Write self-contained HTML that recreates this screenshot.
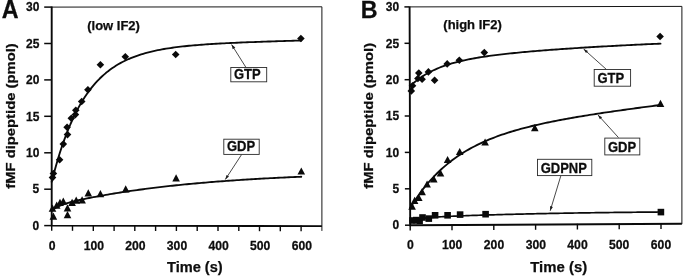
<!DOCTYPE html>
<html><head><meta charset="utf-8"><title>fMF dipeptide formation</title>
<style>
html,body{margin:0;padding:0;background:#fff;}
svg{display:block;will-change:transform;transform:translateZ(0)}
text{stroke:#0d0d0d;stroke-width:0.25px;font-family:"Liberation Sans",Arial,Helvetica,sans-serif;font-weight:bold;fill:#0d0d0d}
.tk{font-size:12px}
.tx{font-size:12.2px}
.ax{font-size:14.6px}
.ay{font-size:13.5px}
.in{font-size:13px}
.lb{font-size:13px}
.pl{font-size:23.3px}
</style></head>
<body>
<svg width="685" height="278" viewBox="0 0 685 278">
<rect width="685" height="278" fill="#ffffff"/>
<path d="M51.7,7.1 L321.9,6.8 L321.9,230.9" fill="none" stroke="#151515" stroke-width="1"/><path d="M51.7,6.6 L51.7,225.6 L321.9,226.1" fill="none" stroke="#0a0a0a" stroke-width="1.9" stroke-linejoin="miter"/><path d="M44.2,225.6 H51.7" stroke="#0a0a0a" stroke-width="1.5"/><text class="tk" text-anchor="end" transform="translate(39.3 229.8) scale(1 1.04)">0</text><path d="M44.2,189.2 H51.7" stroke="#0a0a0a" stroke-width="1.5"/><text class="tk" text-anchor="end" transform="translate(39.3 193.4) scale(1 1.04)">5</text><path d="M44.2,152.8 H51.7" stroke="#0a0a0a" stroke-width="1.5"/><text class="tk" text-anchor="end" transform="translate(39.3 157.0) scale(1 1.04)">10</text><path d="M44.2,116.3 H51.7" stroke="#0a0a0a" stroke-width="1.5"/><text class="tk" text-anchor="end" transform="translate(39.3 120.5) scale(1 1.04)">15</text><path d="M44.2,79.9 H51.7" stroke="#0a0a0a" stroke-width="1.5"/><text class="tk" text-anchor="end" transform="translate(39.3 84.1) scale(1 1.04)">20</text><path d="M44.2,43.5 H51.7" stroke="#0a0a0a" stroke-width="1.5"/><text class="tk" text-anchor="end" transform="translate(39.3 47.7) scale(1 1.04)">25</text><path d="M44.2,7.1 H51.7" stroke="#0a0a0a" stroke-width="1.5"/><text class="tk" text-anchor="end" transform="translate(39.3 11.3) scale(1 1.04)">30</text><path d="M51.7,225.1 V230.8" stroke="#0a0a0a" stroke-width="1.4"/><path d="M72.5,225.1 V230.8" stroke="#0a0a0a" stroke-width="1.4"/><path d="M93.3,225.2 V230.9" stroke="#0a0a0a" stroke-width="1.4"/><path d="M114.1,225.2 V230.9" stroke="#0a0a0a" stroke-width="1.4"/><path d="M134.8,225.3 V231.0" stroke="#0a0a0a" stroke-width="1.4"/><path d="M155.6,225.3 V231.0" stroke="#0a0a0a" stroke-width="1.4"/><path d="M176.4,225.3 V231.0" stroke="#0a0a0a" stroke-width="1.4"/><path d="M197.2,225.4 V231.1" stroke="#0a0a0a" stroke-width="1.4"/><path d="M218.0,225.4 V231.1" stroke="#0a0a0a" stroke-width="1.4"/><path d="M238.8,225.4 V231.1" stroke="#0a0a0a" stroke-width="1.4"/><path d="M259.5,225.5 V231.2" stroke="#0a0a0a" stroke-width="1.4"/><path d="M280.3,225.5 V231.2" stroke="#0a0a0a" stroke-width="1.4"/><path d="M301.1,225.6 V231.3" stroke="#0a0a0a" stroke-width="1.4"/><text class="tx" text-anchor="middle" transform="translate(52.2 249.8) scale(1 1.05)">0</text><text class="tx" text-anchor="middle" transform="translate(93.8 249.8) scale(1 1.05)">100</text><text class="tx" text-anchor="middle" transform="translate(135.4 249.8) scale(1 1.05)">200</text><text class="tx" text-anchor="middle" transform="translate(177.0 249.8) scale(1 1.05)">300</text><text class="tx" text-anchor="middle" transform="translate(218.6 249.8) scale(1 1.05)">400</text><text class="tx" text-anchor="middle" transform="translate(260.2 249.8) scale(1 1.05)">500</text><text class="tx" text-anchor="middle" transform="translate(301.8 249.8) scale(1 1.05)">600</text><path d="M51.70,181.83 L53.78,173.77 L55.86,166.19 L57.94,159.05 L60.02,152.34 L62.10,146.02 L64.18,140.07 L66.26,134.48 L68.34,129.21 L70.42,124.25 L72.50,119.59 L74.58,115.19 L76.66,111.06 L78.74,107.16 L80.82,103.50 L82.90,100.05 L84.98,96.80 L87.06,93.74 L89.14,90.86 L91.22,88.15 L93.30,85.59 L95.38,83.18 L97.46,80.92 L99.54,78.78 L101.62,76.77 L103.70,74.87 L105.78,73.09 L107.86,71.40 L109.94,69.81 L112.02,68.32 L114.10,66.91 L116.18,65.58 L118.26,64.32 L120.34,63.14 L122.42,62.02 L124.50,60.97 L126.58,59.97 L128.66,59.03 L130.74,58.15 L132.82,57.31 L134.90,56.52 L136.98,55.77 L139.06,55.07 L141.14,54.40 L143.22,53.77 L145.30,53.17 L147.38,52.60 L149.46,52.07 L151.54,51.56 L153.62,51.08 L155.70,50.63 L157.78,50.20 L159.86,49.79 L161.94,49.40 L164.02,49.03 L166.10,48.69 L168.18,48.35 L170.26,48.04 L172.34,47.74 L174.42,47.45 L176.50,47.18 L178.58,46.92 L180.66,46.67 L182.74,46.44 L184.82,46.21 L186.90,46.00 L188.98,45.79 L191.06,45.59 L193.14,45.41 L195.22,45.23 L197.30,45.05 L199.38,44.89 L201.46,44.73 L203.54,44.57 L205.62,44.43 L207.70,44.28 L209.78,44.15 L211.86,44.01 L213.94,43.89 L216.02,43.76 L218.10,43.64 L220.18,43.53 L222.26,43.42 L224.34,43.31 L226.42,43.20 L228.50,43.10 L230.58,43.00 L232.66,42.90 L234.74,42.81 L236.82,42.72 L238.90,42.63 L240.98,42.54 L243.06,42.45 L245.14,42.37 L247.22,42.29 L249.30,42.20 L251.38,42.12 L253.46,42.05 L255.54,41.97 L257.62,41.89 L259.70,41.82 L261.78,41.75 L263.86,41.68 L265.94,41.61 L268.02,41.54 L270.10,41.47 L272.18,41.40 L274.26,41.33 L276.34,41.26 L278.42,41.20 L280.50,41.13 L282.58,41.07 L284.66,41.00 L286.74,40.94 L288.82,40.88 L290.90,40.81 L292.98,40.75 L295.06,40.69 L297.14,40.63 L299.22,40.57 L301.30,40.51" fill="none" stroke="#0a0a0a" stroke-width="1.85" stroke-linejoin="round" stroke-linecap="round"/><path d="M51.70,210.66 L53.78,209.07 L55.86,207.75 L57.94,206.64 L60.02,205.68 L62.10,204.85 L64.18,204.11 L66.26,203.44 L68.34,202.82 L70.42,202.24 L72.50,201.70 L74.58,201.18 L76.66,200.69 L78.74,200.21 L80.82,199.75 L82.90,199.30 L84.98,198.87 L87.06,198.44 L89.14,198.02 L91.22,197.61 L93.30,197.20 L95.38,196.81 L97.46,196.42 L99.54,196.04 L101.62,195.66 L103.70,195.29 L105.78,194.92 L107.86,194.56 L109.94,194.21 L112.02,193.86 L114.10,193.52 L116.18,193.18 L118.26,192.84 L120.34,192.52 L122.42,192.19 L124.50,191.87 L126.58,191.56 L128.66,191.25 L130.74,190.95 L132.82,190.65 L134.90,190.35 L136.98,190.06 L139.06,189.77 L141.14,189.49 L143.22,189.21 L145.30,188.94 L147.38,188.67 L149.46,188.40 L151.54,188.14 L153.62,187.88 L155.70,187.63 L157.78,187.38 L159.86,187.13 L161.94,186.89 L164.02,186.65 L166.10,186.41 L168.18,186.18 L170.26,185.95 L172.34,185.73 L174.42,185.51 L176.50,185.29 L178.58,185.07 L180.66,184.86 L182.74,184.65 L184.82,184.44 L186.90,184.24 L188.98,184.04 L191.06,183.84 L193.14,183.65 L195.22,183.46 L197.30,183.27 L199.38,183.09 L201.46,182.90 L203.54,182.72 L205.62,182.55 L207.70,182.37 L209.78,182.20 L211.86,182.03 L213.94,181.86 L216.02,181.70 L218.10,181.54 L220.18,181.38 L222.26,181.22 L224.34,181.07 L226.42,180.91 L228.50,180.76 L230.58,180.62 L232.66,180.47 L234.74,180.33 L236.82,180.19 L238.90,180.05 L240.98,179.91 L243.06,179.77 L245.14,179.64 L247.22,179.51 L249.30,179.38 L251.38,179.25 L253.46,179.13 L255.54,179.00 L257.62,178.88 L259.70,178.76 L261.78,178.64 L263.86,178.53 L265.94,178.41 L268.02,178.30 L270.10,178.19 L272.18,178.08 L274.26,177.97 L276.34,177.87 L278.42,177.76 L280.50,177.66 L282.58,177.56 L284.66,177.46 L286.74,177.36 L288.82,177.26 L290.90,177.17 L292.98,177.07 L295.06,176.98 L297.14,176.89 L299.22,176.80 L301.30,176.71" fill="none" stroke="#0a0a0a" stroke-width="1.85" stroke-linejoin="round" stroke-linecap="round"/><g fill="#0a0a0a"><path d="M52.5,173.8 L56.3,177.6 L52.5,181.4 L48.7,177.6Z"/><path d="M53.4,169.7 L57.2,173.5 L53.4,177.3 L49.6,173.5Z"/><path d="M59.6,155.9 L63.4,159.7 L59.6,163.5 L55.8,159.7Z"/><path d="M63.3,140.3 L67.1,144.1 L63.3,147.9 L59.5,144.1Z"/><path d="M67.5,130.8 L71.3,134.6 L67.5,138.4 L63.7,134.6Z"/><path d="M67.1,123.5 L70.9,127.3 L67.1,131.1 L63.3,127.3Z"/><path d="M71.3,114.4 L75.1,118.2 L71.3,122.0 L67.5,118.2Z"/><path d="M75.4,110.8 L79.2,114.6 L75.4,118.4 L71.6,114.6Z"/><path d="M75.8,106.4 L79.6,110.2 L75.8,114.0 L72.0,110.2Z"/><path d="M81.7,97.7 L85.5,101.5 L81.7,105.3 L77.9,101.5Z"/><path d="M87.9,86.0 L91.7,89.8 L87.9,93.6 L84.1,89.8Z"/><path d="M100.4,60.9 L104.2,64.7 L100.4,68.5 L96.6,64.7Z"/><path d="M125.3,52.9 L129.1,56.7 L125.3,60.5 L121.5,56.7Z"/><path d="M175.7,50.7 L179.5,54.5 L175.7,58.3 L171.9,54.5Z"/><path d="M300.9,34.7 L304.7,38.5 L300.9,42.3 L297.1,38.5Z"/></g><g fill="#0a0a0a"><path d="M53.4,212.5 L57.2,219.7 L49.6,219.7Z"/><path d="M52.5,204.5 L56.3,211.7 L48.7,211.7Z"/><path d="M56.7,201.6 L60.5,208.8 L52.9,208.8Z"/><path d="M60.0,198.7 L63.8,205.9 L56.2,205.9Z"/><path d="M63.3,197.6 L67.1,204.8 L59.5,204.8Z"/><path d="M67.5,204.2 L71.3,211.4 L63.7,211.4Z"/><path d="M67.5,211.1 L71.3,218.3 L63.7,218.3Z"/><path d="M72.1,198.7 L75.9,205.9 L68.3,205.9Z"/><path d="M76.2,196.5 L80.0,203.7 L72.4,203.7Z"/><path d="M82.1,196.2 L85.9,203.4 L78.3,203.4Z"/><path d="M88.3,189.2 L92.1,196.4 L84.5,196.4Z"/><path d="M100.4,190.0 L104.2,197.2 L96.6,197.2Z"/><path d="M125.7,185.2 L129.5,192.4 L121.9,192.4Z"/><path d="M176.1,174.3 L179.9,181.5 L172.3,181.5Z"/><path d="M301.3,167.4 L305.1,174.6 L297.5,174.6Z"/></g><path d="M246.0,67.5 L231.6,44.6" stroke="#1a1a1a" stroke-width="0.8"/><path d="M231.6,44.6 L235.3,47.6 L232.7,49.2Z" fill="#1a1a1a"/><rect x="230.8" y="67.5" width="35.9" height="14.3" fill="#fff" stroke="#2a2a2a" stroke-width="0.9"/><text class="lb" transform="translate(234.0 78.8) scale(1 1.13)">GTP</text><path d="M241.7,154.4 L225.3,179.5" stroke="#1a1a1a" stroke-width="0.8"/><path d="M225.3,179.5 L226.5,174.9 L229.0,176.6Z" fill="#1a1a1a"/><rect x="223.8" y="139.2" width="35.4" height="15.2" fill="#fff" stroke="#2a2a2a" stroke-width="0.9"/><text class="lb" transform="translate(227.0 151.4) scale(1 1.13)">GDP</text><path d="M409.6,6.9 L681.9,6.4 L681.9,224.1" fill="none" stroke="#151515" stroke-width="1"/><path d="M409.6,6.4 L410.2,225.2 L681.9,223.8" fill="none" stroke="#0a0a0a" stroke-width="1.9" stroke-linejoin="miter"/><path d="M405.0,225.2 H410.2" stroke="#0a0a0a" stroke-width="1.5"/><text class="tk" text-anchor="end" transform="translate(399.1 229.4) scale(1 1.04)">0</text><path d="M404.9,188.8 H410.1" stroke="#0a0a0a" stroke-width="1.5"/><text class="tk" text-anchor="end" transform="translate(399.1 193.0) scale(1 1.04)">5</text><path d="M404.8,152.4 H410.0" stroke="#0a0a0a" stroke-width="1.5"/><text class="tk" text-anchor="end" transform="translate(399.1 156.6) scale(1 1.04)">10</text><path d="M404.7,116.0 H409.9" stroke="#0a0a0a" stroke-width="1.5"/><text class="tk" text-anchor="end" transform="translate(399.1 120.2) scale(1 1.04)">15</text><path d="M404.6,79.7 H409.8" stroke="#0a0a0a" stroke-width="1.5"/><text class="tk" text-anchor="end" transform="translate(399.1 83.9) scale(1 1.04)">20</text><path d="M404.5,43.3 H409.7" stroke="#0a0a0a" stroke-width="1.5"/><text class="tk" text-anchor="end" transform="translate(399.1 47.5) scale(1 1.04)">25</text><path d="M404.4,6.9 H409.6" stroke="#0a0a0a" stroke-width="1.5"/><text class="tk" text-anchor="end" transform="translate(399.1 11.1) scale(1 1.04)">30</text><path d="M410.2,224.7 V230.4" stroke="#0a0a0a" stroke-width="1.4"/><path d="M452.0,224.5 V230.2" stroke="#0a0a0a" stroke-width="1.4"/><path d="M493.8,224.3 V230.0" stroke="#0a0a0a" stroke-width="1.4"/><path d="M535.6,224.1 V229.8" stroke="#0a0a0a" stroke-width="1.4"/><path d="M577.4,223.8 V229.5" stroke="#0a0a0a" stroke-width="1.4"/><path d="M619.2,223.6 V229.3" stroke="#0a0a0a" stroke-width="1.4"/><path d="M661.0,223.4 V229.1" stroke="#0a0a0a" stroke-width="1.4"/><text class="tx" text-anchor="middle" transform="translate(410.5 249.4) scale(1 1.05)">0</text><text class="tx" text-anchor="middle" transform="translate(452.2 249.4) scale(1 1.05)">100</text><text class="tx" text-anchor="middle" transform="translate(494.0 249.4) scale(1 1.05)">200</text><text class="tx" text-anchor="middle" transform="translate(535.8 249.4) scale(1 1.05)">300</text><text class="tx" text-anchor="middle" transform="translate(577.5 249.4) scale(1 1.05)">400</text><text class="tx" text-anchor="middle" transform="translate(619.2 249.4) scale(1 1.05)">500</text><text class="tx" text-anchor="middle" transform="translate(661.0 249.4) scale(1 1.05)">600</text><path d="M410.00,86.32 L412.09,84.38 L414.18,82.57 L416.26,80.86 L418.35,79.27 L420.44,77.77 L422.52,76.37 L424.61,75.05 L426.70,73.81 L428.79,72.65 L430.88,71.55 L432.96,70.52 L435.05,69.54 L437.14,68.63 L439.23,67.76 L441.31,66.94 L443.40,66.17 L445.49,65.43 L447.57,64.74 L449.66,64.08 L451.75,63.46 L453.84,62.86 L455.93,62.30 L458.01,61.76 L460.10,61.25 L462.19,60.76 L464.27,60.29 L466.36,59.84 L468.45,59.41 L470.54,59.00 L472.62,58.61 L474.71,58.23 L476.80,57.87 L478.89,57.52 L480.98,57.18 L483.06,56.86 L485.15,56.54 L487.24,56.24 L489.32,55.95 L491.41,55.66 L493.50,55.39 L495.59,55.12 L497.68,54.86 L499.76,54.60 L501.85,54.36 L503.94,54.12 L506.02,53.89 L508.11,53.66 L510.20,53.43 L512.29,53.22 L514.38,53.00 L516.46,52.80 L518.55,52.59 L520.64,52.39 L522.73,52.20 L524.81,52.00 L526.90,51.82 L528.99,51.63 L531.08,51.45 L533.16,51.27 L535.25,51.09 L537.34,50.92 L539.42,50.75 L541.51,50.58 L543.60,50.42 L545.69,50.26 L547.77,50.09 L549.86,49.94 L551.95,49.78 L554.04,49.63 L556.12,49.47 L558.21,49.32 L560.30,49.18 L562.39,49.03 L564.48,48.88 L566.56,48.74 L568.65,48.60 L570.74,48.46 L572.83,48.32 L574.91,48.19 L577.00,48.05 L579.09,47.92 L581.17,47.78 L583.26,47.65 L585.35,47.52 L587.44,47.40 L589.52,47.27 L591.61,47.14 L593.70,47.02 L595.79,46.90 L597.88,46.78 L599.96,46.66 L602.05,46.54 L604.14,46.42 L606.23,46.30 L608.31,46.19 L610.40,46.07 L612.49,45.96 L614.58,45.84 L616.66,45.73 L618.75,45.62 L620.84,45.51 L622.92,45.40 L625.01,45.30 L627.10,45.19 L629.19,45.09 L631.27,44.98 L633.36,44.88 L635.45,44.78 L637.54,44.67 L639.62,44.57 L641.71,44.47 L643.80,44.37 L645.89,44.28 L647.98,44.18 L650.06,44.08 L652.15,43.99 L654.24,43.89 L656.33,43.80 L658.41,43.71 L660.50,43.62" fill="none" stroke="#0a0a0a" stroke-width="1.85" stroke-linejoin="round" stroke-linecap="round"/><path d="M410.00,208.15 L412.09,204.77 L414.18,201.53 L416.26,198.42 L418.35,195.43 L420.44,192.55 L422.52,189.79 L424.61,187.14 L426.70,184.59 L428.79,182.14 L430.88,179.78 L432.96,177.52 L435.05,175.34 L437.14,173.24 L439.23,171.22 L441.31,169.28 L443.40,167.41 L445.49,165.61 L447.57,163.88 L449.66,162.20 L451.75,160.59 L453.84,159.04 L455.93,157.54 L458.01,156.10 L460.10,154.71 L462.19,153.36 L464.27,152.06 L466.36,150.81 L468.45,149.60 L470.54,148.43 L472.62,147.30 L474.71,146.21 L476.80,145.15 L478.89,144.12 L480.98,143.13 L483.06,142.17 L485.15,141.24 L487.24,140.34 L489.32,139.47 L491.41,138.62 L493.50,137.80 L495.59,137.00 L497.68,136.22 L499.76,135.47 L501.85,134.74 L503.94,134.03 L506.02,133.33 L508.11,132.66 L510.20,132.00 L512.29,131.36 L514.38,130.74 L516.46,130.13 L518.55,129.54 L520.64,128.96 L522.73,128.40 L524.81,127.85 L526.90,127.31 L528.99,126.78 L531.08,126.26 L533.16,125.76 L535.25,125.26 L537.34,124.78 L539.42,124.30 L541.51,123.84 L543.60,123.38 L545.69,122.93 L547.77,122.49 L549.86,122.06 L551.95,121.64 L554.04,121.22 L556.12,120.81 L558.21,120.40 L560.30,120.00 L562.39,119.61 L564.48,119.23 L566.56,118.84 L568.65,118.47 L570.74,118.10 L572.83,117.73 L574.91,117.37 L577.00,117.01 L579.09,116.66 L581.17,116.31 L583.26,115.97 L585.35,115.63 L587.44,115.29 L589.52,114.96 L591.61,114.63 L593.70,114.30 L595.79,113.98 L597.88,113.66 L599.96,113.34 L602.05,113.03 L604.14,112.71 L606.23,112.40 L608.31,112.10 L610.40,111.79 L612.49,111.49 L614.58,111.19 L616.66,110.89 L618.75,110.59 L620.84,110.30 L622.92,110.00 L625.01,109.71 L627.10,109.42 L629.19,109.14 L631.27,108.85 L633.36,108.56 L635.45,108.28 L637.54,108.00 L639.62,107.72 L641.71,107.44 L643.80,107.16 L645.89,106.89 L647.98,106.61 L650.06,106.34 L652.15,106.06 L654.24,105.79 L656.33,105.52 L658.41,105.25 L660.50,104.98" fill="none" stroke="#0a0a0a" stroke-width="1.85" stroke-linejoin="round" stroke-linecap="round"/><path d="M410.00,220.82 L412.09,220.22 L414.18,219.72 L416.26,219.28 L418.35,218.91 L420.44,218.58 L422.52,218.30 L424.61,218.05 L426.70,217.82 L428.79,217.63 L430.88,217.45 L432.96,217.29 L435.05,217.14 L437.14,217.00 L439.23,216.87 L441.31,216.75 L443.40,216.64 L445.49,216.53 L447.57,216.43 L449.66,216.34 L451.75,216.24 L453.84,216.15 L455.93,216.07 L458.01,215.98 L460.10,215.90 L462.19,215.82 L464.27,215.74 L466.36,215.66 L468.45,215.59 L470.54,215.52 L472.62,215.45 L474.71,215.38 L476.80,215.31 L478.89,215.24 L480.98,215.17 L483.06,215.11 L485.15,215.04 L487.24,214.98 L489.32,214.92 L491.41,214.85 L493.50,214.79 L495.59,214.73 L497.68,214.67 L499.76,214.62 L501.85,214.56 L503.94,214.50 L506.02,214.45 L508.11,214.39 L510.20,214.34 L512.29,214.29 L514.38,214.24 L516.46,214.19 L518.55,214.13 L520.64,214.09 L522.73,214.04 L524.81,213.99 L526.90,213.94 L528.99,213.89 L531.08,213.85 L533.16,213.80 L535.25,213.76 L537.34,213.71 L539.42,213.67 L541.51,213.63 L543.60,213.58 L545.69,213.54 L547.77,213.50 L549.86,213.46 L551.95,213.42 L554.04,213.38 L556.12,213.34 L558.21,213.31 L560.30,213.27 L562.39,213.23 L564.48,213.20 L566.56,213.16 L568.65,213.13 L570.74,213.09 L572.83,213.06 L574.91,213.02 L577.00,212.99 L579.09,212.96 L581.17,212.92 L583.26,212.89 L585.35,212.86 L587.44,212.83 L589.52,212.80 L591.61,212.77 L593.70,212.74 L595.79,212.71 L597.88,212.68 L599.96,212.66 L602.05,212.63 L604.14,212.60 L606.23,212.57 L608.31,212.55 L610.40,212.52 L612.49,212.49 L614.58,212.47 L616.66,212.44 L618.75,212.42 L620.84,212.40 L622.92,212.37 L625.01,212.35 L627.10,212.33 L629.19,212.30 L631.27,212.28 L633.36,212.26 L635.45,212.24 L637.54,212.21 L639.62,212.19 L641.71,212.17 L643.80,212.15 L645.89,212.13 L647.98,212.11 L650.06,212.09 L652.15,212.07 L654.24,212.05 L656.33,212.03 L658.41,212.02 L660.50,212.00" fill="none" stroke="#0a0a0a" stroke-width="1.7" stroke-linejoin="round" stroke-linecap="round"/><g fill="#0a0a0a"><path d="M411.3,87.1 L415.1,90.9 L411.3,94.7 L407.5,90.9Z"/><path d="M412.5,82.0 L416.3,85.8 L412.5,89.6 L408.7,85.8Z"/><path d="M417.9,74.7 L421.7,78.5 L417.9,82.3 L414.1,78.5Z"/><path d="M418.8,69.2 L422.6,73.0 L418.8,76.8 L415.0,73.0Z"/><path d="M422.1,75.4 L425.9,79.2 L422.1,83.0 L418.3,79.2Z"/><path d="M428.4,68.1 L432.2,71.9 L428.4,75.7 L424.6,71.9Z"/><path d="M434.6,76.5 L438.4,80.3 L434.6,84.1 L430.8,80.3Z"/><path d="M447.2,60.1 L451.0,63.9 L447.2,67.7 L443.4,63.9Z"/><path d="M459.3,56.4 L463.1,60.2 L459.3,64.0 L455.5,60.2Z"/><path d="M484.3,48.8 L488.1,52.6 L484.3,56.4 L480.5,52.6Z"/><path d="M660.1,32.7 L663.9,36.5 L660.1,40.3 L656.3,36.5Z"/></g><g fill="#0a0a0a"><path d="M412.1,202.6 L415.9,209.8 L408.3,209.8Z"/><path d="M414.6,196.8 L418.4,204.0 L410.8,204.0Z"/><path d="M418.8,193.9 L422.6,201.1 L415.0,201.1Z"/><path d="M422.1,188.0 L425.9,195.2 L418.3,195.2Z"/><path d="M427.1,180.4 L430.9,187.6 L423.3,187.6Z"/><path d="M433.8,175.2 L437.6,182.4 L430.0,182.4Z"/><path d="M440.5,169.4 L444.3,176.6 L436.7,176.6Z"/><path d="M447.6,155.9 L451.4,163.1 L443.8,163.1Z"/><path d="M459.7,147.9 L463.5,155.1 L455.9,155.1Z"/><path d="M485.1,138.4 L488.9,145.6 L481.3,145.6Z"/><path d="M534.8,124.1 L538.6,131.3 L531.0,131.3Z"/><path d="M660.5,99.7 L664.3,106.9 L656.7,106.9Z"/></g><g fill="#0a0a0a"><rect x="409.2" y="217.2" width="6.6" height="6.6"/><rect x="413.0" y="216.8" width="6.6" height="6.6"/><rect x="416.3" y="217.5" width="6.6" height="6.6"/><rect x="419.2" y="214.2" width="6.6" height="6.6"/><rect x="425.5" y="215.3" width="6.6" height="6.6"/><rect x="431.8" y="212.0" width="6.6" height="6.6"/><rect x="444.3" y="212.0" width="6.6" height="6.6"/><rect x="456.8" y="211.3" width="6.6" height="6.6"/><rect x="482.3" y="210.9" width="6.6" height="6.6"/><rect x="657.6" y="208.8" width="6.6" height="6.6"/></g><path d="M606.6,69.6 L583.6,49.0" stroke="#1a1a1a" stroke-width="0.8"/><path d="M583.6,49.0 L588.0,50.9 L586.0,53.1Z" fill="#1a1a1a"/><rect x="594.2" y="69.5" width="36.4" height="16.7" fill="#fff" stroke="#2a2a2a" stroke-width="0.9"/><text class="lb" transform="translate(597.4 83.2) scale(1 1.13)">GTP</text><path d="M618.5,137.6 L598.0,115.0" stroke="#1a1a1a" stroke-width="0.8"/><path d="M598.0,115.0 L602.1,117.3 L599.9,119.3Z" fill="#1a1a1a"/><rect x="604.8" y="138.1" width="35.0" height="16.8" fill="#fff" stroke="#2a2a2a" stroke-width="0.9"/><text class="lb" transform="translate(608.0 151.9) scale(1 1.13)">GDP</text><path d="M560.9,175.6 L550.2,210.8" stroke="#1a1a1a" stroke-width="0.8"/><path d="M550.2,210.8 L550.1,206.1 L552.9,206.9Z" fill="#1a1a1a"/><rect x="537.5" y="159.3" width="54.3" height="16.3" fill="#fff" stroke="#2a2a2a" stroke-width="0.9"/><text class="lb" transform="translate(540.7 172.6) scale(1 1.13)">GDPNP</text>

<text class="pl" transform="translate(1.7 18) scale(1 1.07)">A</text>
<text class="pl" transform="translate(360.8 18.2) scale(1 1.04)">B</text>
<text class="in" x="87.2" y="29.8">(low IF2)</text>
<text class="in" x="443.3" y="28.9">(high IF2)</text>
<text class="ax" x="167" y="272">Time (s)</text>
<text class="ax" style="font-size:14.9px" x="530.3" y="272">Time (s)</text>
<text class="ay" transform="translate(15.0 188.7) rotate(-90) scale(1.096 1)">fMF dipeptide (pmol)</text>
<text class="ay" transform="translate(373.4 188.8) rotate(-90) scale(1.1 1)">fMF dipeptide (pmol)</text>

</svg>
</body></html>
